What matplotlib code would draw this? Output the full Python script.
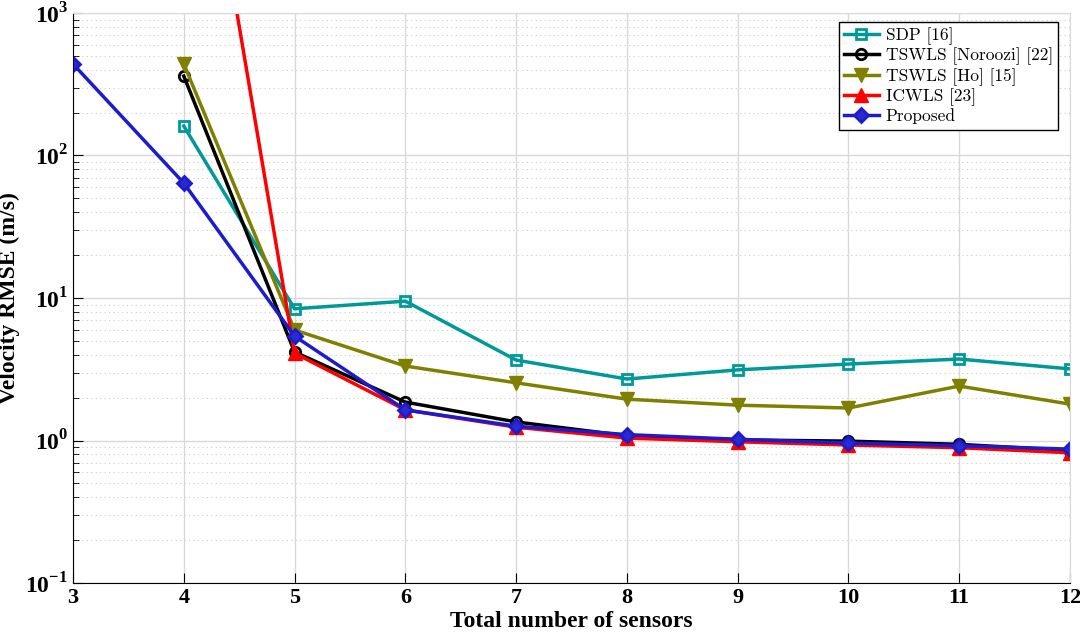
import matplotlib
matplotlib.use("Agg")
import matplotlib.pyplot as plt
import numpy as np

plt.rcParams['font.family'] = 'Liberation Serif'
plt.rcParams['mathtext.fontset'] = 'custom'
plt.rcParams['mathtext.rm'] = 'Liberation Serif:bold'
plt.rcParams['mathtext.bf'] = 'Liberation Serif:bold'

# sensors
x_all = [3, 4, 5, 6, 7, 8, 9, 10, 11, 12]
x_from4 = [4, 5, 6, 7, 8, 9, 10, 11, 12]

sdp = [161, 8.4, 9.5, 3.67, 2.70, 3.13, 3.44, 3.73, 3.18]
tswls_noroozi = [361, 4.18, 1.86, 1.35, 1.08, 1.01, 0.99, 0.94, 0.85]
tswls_ho = [439, 5.96, 3.33, 2.54, 1.95, 1.77, 1.69, 2.41, 1.80]
icwls = [1.6e5, 4.1, 1.64, 1.24, 1.04, 0.98, 0.93, 0.89, 0.82]
proposed = [439, 64, 5.4, 1.64, 1.26, 1.10, 1.02, 0.96, 0.92, 0.87]

fig = plt.figure(figsize=(10.8, 6.43), dpi=100)
ax = fig.add_axes([0.0676, 0.0933, 0.9231, 0.8865])

lw = 2.5
ax.plot(x_from4, sdp, color='#009999', lw=lw, marker='s', ms=7.5,
        mfc='none', mew=2, label='SDP [16]')
ax.plot(x_from4, tswls_noroozi, color='black', lw=lw, marker='o', ms=7.5,
        mfc='none', mew=2, label='TSWLS [Noroozi] [22]')
ax.plot(x_from4, tswls_ho, color='#808000', lw=lw, marker='v', ms=10,
        label='TSWLS [Ho] [15]')
ax.plot(x_from4, icwls, color='#ff0000', lw=lw, marker='^', ms=10,
        label='ICWLS [23]')
ax.plot(x_all, proposed, color='#1c1ccc', lw=lw, marker='D', ms=7,
        mfc='#2a2ad0', mew=2, label='Proposed')

ax.set_yscale('log')
ax.set_xlim(3, 12)
ax.set_ylim(0.1, 1000)
ax.set_xticks(x_all)
ax.set_xticklabels([str(v) for v in x_all], fontweight='bold', fontsize=16)
yt = [0.1, 1, 10, 100, 1000]
ax.set_yticks(yt)
ax.set_yticklabels([r'$10^{%d}$' % int(np.log10(v)) for v in yt], fontsize=17)

ax.grid(True, which='major', color='#d9d9d9', lw=1)
ax.grid(True, which='minor', axis='y', color='#cccccc', lw=0.8, ls=(0, (1, 3)))
ax.tick_params(direction='in', which='both', top=False, right=False)
ax.tick_params(which='major', length=7)
ax.tick_params(which='minor', length=4)
for s in ['top', 'right']:
    ax.spines[s].set_color('#d9d9d9')

ax.set_xlabel('Total number of sensors', fontsize=17, fontweight='bold', labelpad=2)
ax.set_ylabel('Velocity RMSE (m/s)', fontsize=17, fontweight='bold', labelpad=4)

leg = ax.legend(loc='upper right', bbox_to_anchor=(0.988, 0.984),
                prop={'family': 'cmr10', 'size': 12.5}, fancybox=False,
                edgecolor='black', framealpha=1, handlelength=2.0,
                borderaxespad=0, labelspacing=0.15, handletextpad=0.4,
                borderpad=0.3)
leg.get_frame().set_linewidth(1)

fig.savefig('out.png', dpi=100)
